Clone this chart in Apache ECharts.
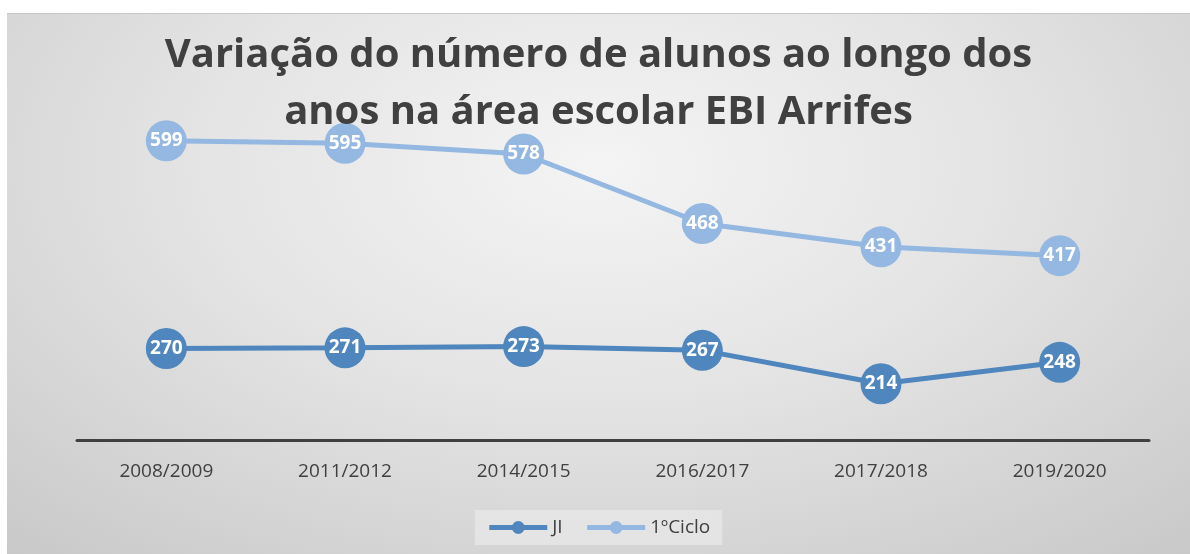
<!DOCTYPE html>
<html>
<head>
<meta charset="utf-8">
<script src="https://cdn.jsdelivr.net/npm/echarts@6/dist/echarts.min.js"></script>
<style>
  html, body { margin: 0; padding: 0; background: #fff; }
  #chart {
    position: absolute;
    left: 7px;
    top: 13px;
    width: 1183px;
    height: 541px;
    border-top: 1px solid #c8c8c8;
    box-sizing: border-box;
    background: radial-gradient(ellipse 75% 95% at 50% 28%, #f4f4f4 0%, #e4e4e4 45%, #c9c9c9 100%);
  }
</style>
</head>
<body>
<div id="chart"></div>
<script>
// dados do gráfico
const anos = ['2008/2009', '2011/2012', '2014/2015', '2016/2017', '2017/2018', '2019/2020'];
const ji = [270, 271, 273, 267, 214, 248];
const ciclo1 = [599, 595, 578, 468, 431, 417];

const textColor = '#404040';
const font = "'Open Sans', sans-serif";

const chart = echarts.init(document.getElementById('chart'));

function lineSeries(name, data, color) {
  return {
    name: name,
    type: 'line',
    data: data,
    symbol: 'circle',
    symbolSize: 41,
    lineStyle: { width: 5, color: color },
    itemStyle: { color: color },
    label: {
      show: true,
      position: 'inside',
      color: '#fff',
      fontWeight: 'bold',
      fontSize: 19,
      fontFamily: font
    }
  };
}

chart.setOption({
  backgroundColor: 'transparent',
  animation: false,
  title: {
    text: 'Variação do número de alunos ao longo dos\nanos na área escolar EBI Arrifes',
    left: 'center',
    top: 8,
    textStyle: {
      color: textColor,
      fontSize: 40,
      fontWeight: 'bold',
      fontFamily: font,
      lineHeight: 57
    }
  },
  legend: {
    bottom: 9,
    left: 'center',
    itemWidth: 58,
    itemHeight: 16,
    itemGap: 22,
    backgroundColor: 'rgba(236,236,236,0.6)',
    padding: [8, 12],
    lineStyle: { width: 5 },
    textStyle: { color: textColor, fontSize: 19, fontFamily: font },
    data: ['JI', '1ºCiclo']
  },
  grid: { left: 70, right: 41, top: 63, bottom: 114 },
  xAxis: {
    type: 'category',
    data: anos,
    axisLine: { lineStyle: { color: textColor, width: 3 } },
    axisTick: { show: false },
    axisLabel: { color: textColor, fontSize: 19, fontFamily: font, margin: 22 }
  },
  yAxis: {
    type: 'value',
    min: 125,
    max: 700,
    show: false,
    splitLine: { show: false }
  },
  series: [
    lineSeries('JI', ji, '#4e86bd'),
    lineSeries('1ºCiclo', ciclo1, '#94b8e1')
  ]
});
</script>
</body>
</html>
